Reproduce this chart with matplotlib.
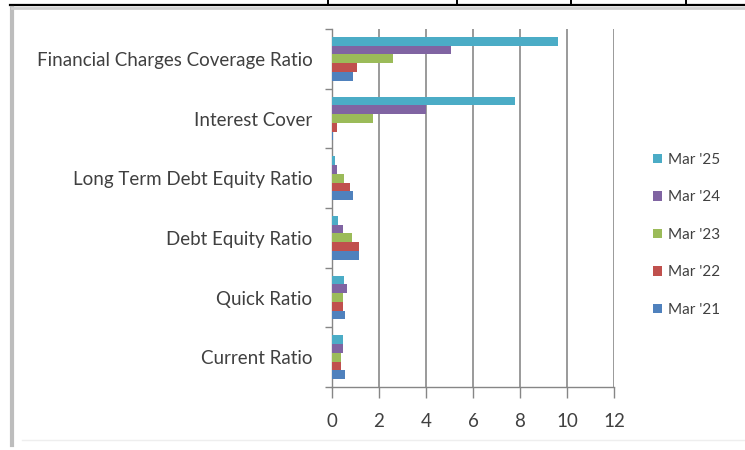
import matplotlib
matplotlib.use("Agg")
import matplotlib.pyplot as plt
from matplotlib.lines import Line2D
from matplotlib.patches import Patch
import numpy as np

plt.rcParams['font.family'] = ['Lato', 'DejaVu Sans']

categories = ["Current Ratio", "Quick Ratio", "Debt Equity Ratio",
              "Long Term Debt Equity Ratio", "Interest Cover",
              "Financial Charges Coverage Ratio"]
series_names = ["Mar '21", "Mar '22", "Mar '23", "Mar '24", "Mar '25"]
mar21 = [0.55, 0.57, 1.15, 0.88, 0.05, 0.90]
mar22 = [0.38, 0.47, 1.15, 0.75, 0.20, 1.05]
mar23 = [0.40, 0.47, 0.87, 0.50, 1.75, 2.60]
mar24 = [0.47, 0.62, 0.47, 0.20, 3.98, 5.06]
mar25 = [0.47, 0.53, 0.25, 0.13, 7.80, 9.60]
series_values = [mar21, mar22, mar23, mar24, mar25]
colors = ["#4F81BD", "#C0504D", "#9BBB59", "#8064A2", "#4BACC6"]
xticks = [0, 2, 4, 6, 8, 10, 12]

W, H = 745, 450
fig = plt.figure(figsize=(W / 100, H / 100), dpi=100)
fig.patch.set_facecolor("white")

def fx(px):
    return px / W

def fy(py):
    return 1 - py / H

# surrounding page lines
fig.add_artist(Line2D([fx(10), fx(745)], [fy(4.5), fy(4.5)], color="black", lw=1.6))
for x in [328, 457, 571, 686]:
    fig.add_artist(Line2D([fx(x), fx(x)], [fy(0), fy(4.5)], color="black", lw=1.4))
fig.add_artist(Line2D([fx(12), fx(12)], [fy(8), fy(445)], color="#BDBDBD", lw=3))
fig.add_artist(Line2D([fx(12), fx(745)], [fy(8), fy(8)], color="#D0D0D0", lw=2))
fig.add_artist(Line2D([fx(22), fx(745)], [fy(440), fy(440)], color="#EEEEEE", lw=1))

left, right, top, bottom = 332, 614, 29, 387
ax = fig.add_axes([fx(left), fy(bottom), fx(right - left), (bottom - top) / H])

y = np.arange(len(categories))
bar_h = 0.147
for i, (vals, c, name) in enumerate(zip(series_values, colors, series_names)):
    ax.barh(y + (i - 2) * bar_h, vals, height=bar_h, color=c, label=name, zorder=3)

ax.set_xlim(0, 12)
ax.set_ylim(-0.5, len(categories) - 0.5)
ax.set_xticks(xticks)
ax.set_xticklabels([str(t) for t in xticks])
ax.set_yticks(y)
ax.set_yticklabels(categories)
ax.set_yticks(np.arange(-0.5, len(categories)), minor=True)

text_col = "#404040"
ax.tick_params(axis="y", which="major", length=0, pad=14, labelsize=13.5, labelcolor=text_col)
ax.tick_params(axis="y", which="minor", length=5, color="#868686", width=1)
ax.tick_params(axis="x", which="major", length=8, color="#868686", width=1,
               pad=11, labelsize=13.5, labelcolor=text_col)

ax.xaxis.grid(True, color="#9A9A9A", lw=1.4, zorder=0)
ax.set_axisbelow(True)
for s in ["top", "right"]:
    ax.spines[s].set_visible(False)
for s in ["left", "bottom"]:
    ax.spines[s].set_color("#868686")
    ax.spines[s].set_linewidth(1)

handles = [Patch(facecolor=c, label=n) for c, n in zip(colors, series_names)][::-1]
fig.legend(handles=handles, loc="upper left", bbox_to_anchor=(fx(639), fy(139)),
           frameon=False, handlelength=0.6, handleheight=0.6, handletextpad=0.4,
           labelspacing=1.54, fontsize=11, labelcolor=text_col)

fig.savefig("out.png", dpi=100, facecolor="white")
